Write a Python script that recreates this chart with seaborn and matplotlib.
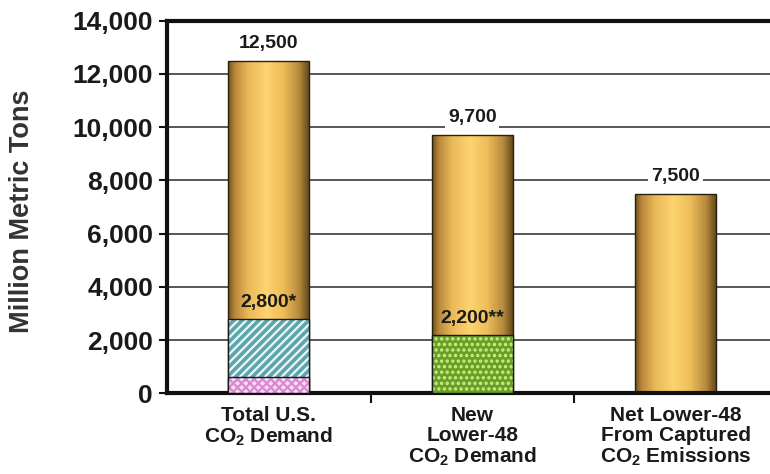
import numpy as np
import pandas as pd
import matplotlib
matplotlib.use("Agg")
import matplotlib.pyplot as plt
from matplotlib.colors import LinearSegmentedColormap
from matplotlib.patches import Rectangle
from matplotlib.ticker import FuncFormatter, FixedLocator
import seaborn as sns

# ---- data -------------------------------------------------------------
categories = [
    "Total U.S.\nCO$_2$ Demand",
    "New\nLower-48\nCO$_2$ Demand",
    "Net Lower-48\nFrom Captured\nCO$_2$ Emissions",
]
totals = [12500, 9700, 7500]
existing_eor = [2800, 0, 0]       # hatched teal segment (includes the pink base)
natural_base = [600, 0, 0]        # pink base segment
new_eor = [0, 2200, 0]            # speckled green segment
total_labels = ["12,500", "9,700", "7,500"]
inner_values = [2800, 2200, None]
inner_labels = ["2,800*", "2,200**", None]
y_ticks = [0, 2000, 4000, 6000, 8000, 10000, 12000, 14000]

# ---- style ------------------------------------------------------------
sns.set_style("white")
plt.rcParams["font.family"] = ["Liberation Sans", "DejaVu Sans"]
plt.rcParams["mathtext.fontset"] = "custom"
plt.rcParams["mathtext.rm"] = "Liberation Sans:bold"
plt.rcParams["mathtext.bf"] = "Liberation Sans:bold"
plt.rcParams["mathtext.default"] = "bf"
plt.rcParams["hatch.linewidth"] = 1.6

fig = plt.figure(figsize=(7.7, 4.74), dpi=100)
ax = fig.add_axes([167 / 770, 80.7 / 474, 610.5 / 770, 372.6 / 474])

df = pd.DataFrame({
    "cat": categories,
    "total": totals,
    "existing": existing_eor,
    "base": natural_base,
    "new": new_eor,
})

def new_bars(before):
    return ax.patches[before:]

# gold totals
n0 = len(ax.patches)
sns.barplot(data=df, x="cat", y="total", order=categories, width=0.4,
            color="#f0c060", ax=ax, zorder=2)
gold = list(new_bars(n0))

gold_cmap = LinearSegmentedColormap.from_list("gold", [
    (0.00, "#6e501c"), (0.08, "#b8873a"), (0.25, "#ebba58"),
    (0.47, "#fcd470"), (0.68, "#edbc58"), (0.87, "#b58a3c"),
    (1.00, "#5c4317")])
grad = np.linspace(0, 1, 256).reshape(1, -1)
for p in gold:
    x0, y0 = p.get_x(), p.get_y()
    w, h = p.get_width(), p.get_height()
    im = ax.imshow(grad, cmap=gold_cmap, aspect="auto",
                   extent=[x0, x0 + w, y0, y0 + h], zorder=2.1)
    im.set_clip_path(p)
    p.set_facecolor("none")
    p.set_edgecolor("#2a2010")
    p.set_linewidth(1.0)
    p.set_zorder(2.2)

def styled_segment(col, face, hatch, hatch_col, z):
    before = len(ax.patches)
    sns.barplot(data=df, x="cat", y=col, order=categories, width=0.4,
                color=face, ax=ax, zorder=z)
    for p in list(new_bars(before)):
        if p.get_height() <= 0:
            p.remove()
            continue
        p.set_facecolor(face)
        p.set_hatch(hatch)
        p.set_edgecolor(hatch_col)
        p.set_linewidth(0)
        ax.add_patch(Rectangle((p.get_x(), p.get_y()), p.get_width(),
                               p.get_height(), fill=False,
                               edgecolor="#1a1a1a", lw=1.0, zorder=z + 0.1))

styled_segment("existing", "#5ea6ae", "////", "#eef8f8", 3)
styled_segment("new", "#6aa022", "...", "#cdee94", 3)
styled_segment("base", "#fadaf5", "xxxx", "#d68ad0", 4)

# ---- axes -------------------------------------------------------------
ax.set_xlim(-0.5, 2.5)
ax.set_ylim(0, 14000)
ax.yaxis.set_major_locator(FixedLocator(y_ticks))
ax.yaxis.set_major_formatter(FuncFormatter(lambda v, _: f"{int(v):,}"))
ax.set_axisbelow(True)
ax.yaxis.grid(True, color="#3a3a3a", lw=1.2)
ax.xaxis.grid(False)

for side in ["left", "bottom", "top"]:
    ax.spines[side].set_visible(True)
    ax.spines[side].set_linewidth(3)
    ax.spines[side].set_color("#111111")
ax.spines["right"].set_visible(False)

ax.tick_params(axis="y", which="major", left=True, length=6, width=1.5,
               pad=4, labelsize=19, labelcolor="#1a1a1a", color="#111111")
for lab in ax.get_yticklabels():
    lab.set_fontweight("bold")

ax.set_xticks(range(len(categories)))
ax.set_xticklabels(categories, fontsize=15, fontweight="bold",
                   color="#1a1a1a", linespacing=1.05)
ax.tick_params(axis="x", which="major", length=0, pad=9)
ax.xaxis.set_minor_locator(FixedLocator([0.5, 1.5]))
ax.tick_params(axis="x", which="minor", bottom=True, length=7, width=1.5,
               color="#111111")

ax.set_xlabel("")
ax.set_ylabel("Million Metric Tons", fontsize=19.5, fontweight="bold",
              color="#333333")
ax.yaxis.set_label_coords(35 / 770, 1 - 211 / 474, transform=fig.transFigure)

# ---- value labels -----------------------------------------------------
for i, (v, t) in enumerate(zip(totals, total_labels)):
    ax.annotate(t, (i, v), xytext=(0, 12.5), textcoords="offset points",
                ha="center", va="center", fontsize=14, fontweight="bold",
                color="#1a1a1a", zorder=6,
                bbox=dict(boxstyle="square,pad=0.15", fc="white", ec="none"))

for i, (v, t) in enumerate(zip(inner_values, inner_labels)):
    if v is None:
        continue
    ax.annotate(t, (i, v), xytext=(0, 12), textcoords="offset points",
                ha="center", va="center", fontsize=14, fontweight="bold",
                color="#1a1a1a", zorder=6)

fig.savefig("out.png", dpi=100)
